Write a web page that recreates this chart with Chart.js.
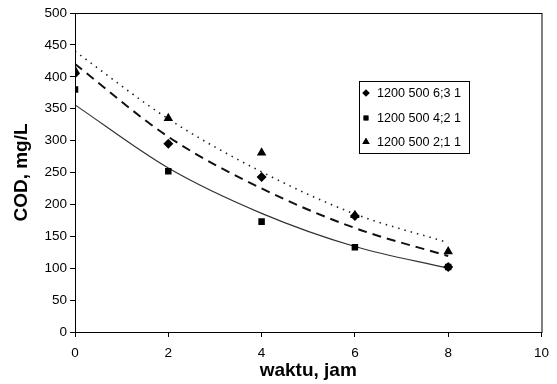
<!DOCTYPE html>
<html>
<head>
<meta charset="utf-8">
<script src="https://cdn.jsdelivr.net/npm/chart.js@4.4.1/dist/chart.umd.min.js"></script>
<style>
html,body{margin:0;padding:0;background:#fff;}
#wrap{width:557px;height:384px;position:relative;}
</style>
</head>
<body>
<div id="wrap"><canvas id="c" width="557" height="384"></canvas></div>
<script>
// Data
const times = [0, 2, 4, 6, 8];
const seriesLabels = ['1200 500 6;3 1', '1200 500 4;2 1', '1200 500 2;1 1'];
const codA = [405, 295, 243, 182, 102];   // diamond
const codB = [380, 252, 173, 133, 102];   // square
const codC = [410, 335, 281, 183, 126];   // triangle
// Trend lines
const trendA = [420, 306, 225, 163, 119]; // dashed
const trendB = [356, 257, 186, 134, 100]; // solid
const trendC = [440, 334, 251, 185, 140]; // dotted
const xTicks = [0, 2, 4, 6, 8, 10];
const yTicks = [0, 50, 100, 150, 200, 250, 300, 350, 400, 450, 500];

const pts = (arr) => arr.map((v, i) => ({x: times[i], y: v}));
const FONT = "'Liberation Sans', Arial, sans-serif";

const trendStyle = (data, dash, width, color) => ({
  type: 'line', data: pts(data), showLine: true, pointRadius: 0,
  borderColor: color, borderWidth: width, borderDash: dash,
  cubicInterpolationMode: 'monotone', fill: false, order: 5
});

const frame = {
  id: 'frame',
  afterDraw(chart) {
    const {ctx, chartArea: a} = chart;
    ctx.save();
    ctx.strokeStyle = '#000';
    ctx.lineWidth = 1;
    ctx.strokeRect(a.left + 0.5, a.top + 0.5, a.right - a.left, a.bottom - a.top);
    // legend box
    const bx = 359.5, by = 81.5, bw = 110, bh = 72;
    ctx.fillStyle = '#fff';
    ctx.fillRect(bx, by, bw, bh);
    ctx.strokeRect(bx, by, bw, bh);
    ctx.font = '12.6px ' + FONT;
    ctx.textBaseline = 'middle';
    const ys = [93, 118, 142];
    const styles = ['rectRot', 'rect', 'triangle'];
    const radii = [3.8, 3.4, 4.2];
    for (let i = 0; i < 3; i++) {
      Chart.helpers.drawPoint(ctx, {pointStyle: styles[i], radius: radii[i], rotation: 0, borderWidth: 0}, 366, ys[i]);
      ctx.fillStyle = '#000';
      ctx.fill();
      ctx.fillText(seriesLabels[i], 377, ys[i] + 0.5);
    }
    ctx.restore();
  }
};

new Chart(document.getElementById('c'), {
  type: 'scatter',
  data: {
    datasets: [
      {label: seriesLabels[0], data: pts(codA), pointStyle: 'rectRot', pointRadius: 5, backgroundColor: '#000', borderColor: '#000', borderWidth: 0, order: 1},
      {label: seriesLabels[1], data: pts(codB), pointStyle: 'rect', pointRadius: 4.6, backgroundColor: '#000', borderColor: '#000', borderWidth: 0, order: 2},
      {label: seriesLabels[2], data: pts(codC), pointStyle: 'triangle', pointRadius: 5.5, backgroundColor: '#000', borderColor: '#000', borderWidth: 0, order: 0},
      trendStyle(trendA, [9, 6], 2, '#111'),
      trendStyle(trendB, [], 1.2, '#333'),
      trendStyle(trendC, [1.5, 5], 1.6, '#222')
    ]
  },
  options: {
    responsive: false,
    animation: false,
    events: [],
    layout: {padding: {left: 0, top: 13, right: 14, bottom: 0}},
    plugins: {legend: {display: false}, tooltip: {enabled: false}},
    scales: {
      x: {
        type: 'linear', min: 0, max: 10,
        afterBuildTicks: (s) => { s.ticks = xTicks.map(v => ({value: v})); },
        afterFit: (s) => { s.height = 52; },
        grid: {display: true, drawOnChartArea: false, drawTicks: true, tickLength: 5, color: '#000'},
        border: {display: true, color: '#000', width: 1},
        ticks: {color: '#000', font: {family: FONT, size: 13.5}, padding: 8, maxRotation: 0},
        title: {display: true, text: 'waktu, jam', color: '#000', font: {family: FONT, size: 19, weight: 'bold'}, padding: {top: 0, bottom: 2}}
      },
      y: {
        min: 0, max: 500,
        afterBuildTicks: (s) => { s.ticks = yTicks.map(v => ({value: v})); },
        afterFit: (s) => { s.width = 75; },
        grid: {display: true, drawOnChartArea: false, drawTicks: true, tickLength: 5, color: '#000'},
        border: {display: true, color: '#000', width: 1},
        ticks: {color: '#000', font: {family: FONT, size: 13.5}, padding: 3},
        title: {display: true, text: 'COD, mg/L', color: '#000', font: {family: FONT, size: 19, weight: 'bold'}, padding: {top: 10, bottom: 0}}
      }
    }
  },
  plugins: [frame]
});
</script>
</body>
</html>
